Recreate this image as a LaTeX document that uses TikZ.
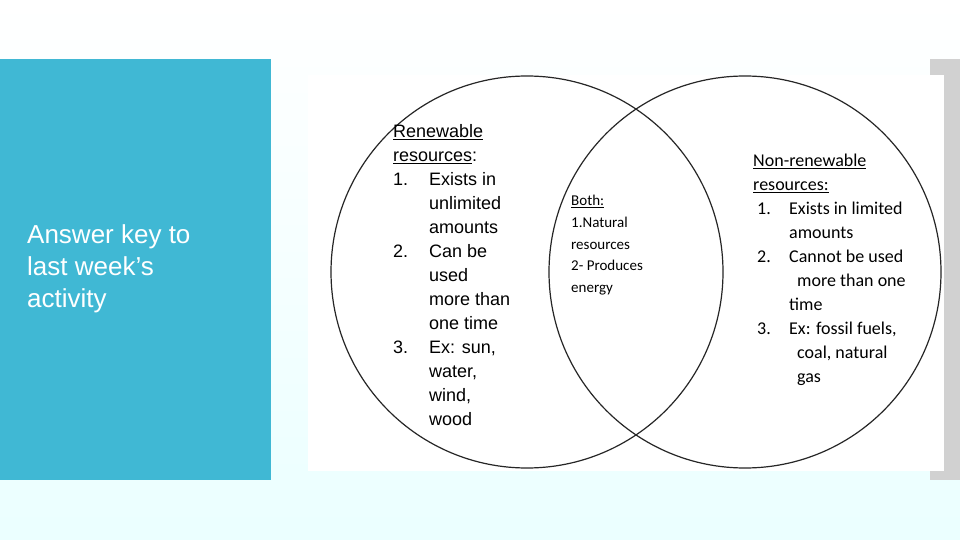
\documentclass[tikz,border=0pt]{standalone}
\usepackage{fontspec}
\setmainfont{Liberation Sans}
\newfontfamily\calfont{Carlito}
\newcommand\ulx[1]{\underline{#1}}
\definecolor{panel}{RGB}{64,184,212}
\begin{document}
\begin{tikzpicture}[x=1pt,y=-1pt,
  txt/.style={anchor=north west,inner sep=0pt,align=left}]
\useasboundingbox (0,0) rectangle (960,540);
\shade[top color=white,bottom color=cyan!8!white] (0,0) rectangle (960,540);
\fill[black!18] (930,59) rectangle (960,480);
\fill[panel] (0,59) rectangle (271,480);
\node[txt,text=white,font=\fontsize{26}{32}\selectfont] (title) at (27,224) {Answer key to\\last week’s\\activity};
\fill[white] (308,75) rectangle (944,471);
\draw[line width=1.2pt,black!85] (527,272) circle (196);
\draw[line width=1.2pt,black!85] (745,272) circle (196);
\node[txt,font=\fontsize{18}{24}\selectfont] (ren) at (393,124) {%
\ulx{Renewable}\\\ulx{resources}:\\
\makebox[36pt][l]{1.}Exists in\\\hspace*{36pt}unlimited\\\hspace*{36pt}amounts\\
\makebox[36pt][l]{2.}Can be\\\hspace*{36pt}used\\\hspace*{36pt}more than\\\hspace*{36pt}one time\\
\makebox[36pt][l]{3.}Ex: sun,\\\hspace*{36pt}water,\\\hspace*{36pt}wind,\\\hspace*{36pt}wood};
\node[txt,font=\calfont\fontsize{15}{21.7}\selectfont] (both) at (571,195) {%
\ulx{Both:}\\1.Natural\\resources\\2- Produces\\energy};
\node[txt,font=\calfont\fontsize{18}{24}\selectfont] (non) at (753,154) {%
\ulx{Non-renewable}\\\ulx{resources:}\\
\makebox[36pt][l]{\hspace*{4pt}1.}Exists in limited\\\hspace*{36pt}amounts\\
\makebox[36pt][l]{\hspace*{4pt}2.}Cannot be used\\\hspace*{44pt}more than one\\\hspace*{36pt}time\\
\makebox[36pt][l]{\hspace*{4pt}3.}Ex: fossil fuels,\\\hspace*{44pt}coal, natural\\\hspace*{44pt}gas};
\end{tikzpicture}
\end{document}
